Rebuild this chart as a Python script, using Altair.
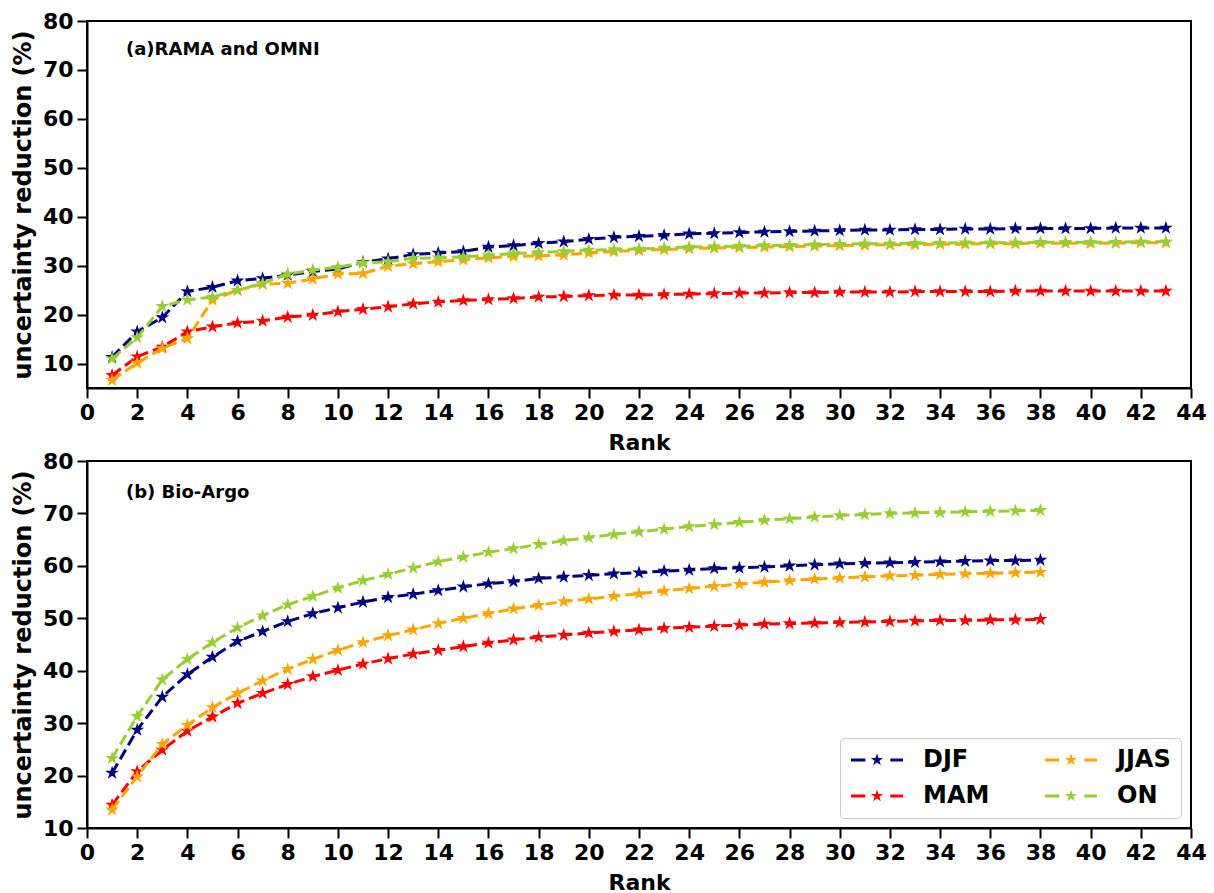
import altair as alt
import pandas as pd

seasons_draw = ["DJF", "MAM", "JJAS", "ON"]
season_colors = ["#000080", "#ff0000", "#ffa500", "#9acd32"]

ranks_a = list(range(1, 44))
ranks_b = list(range(1, 39))
x_ticks = list(range(0, 45, 2))
y_ticks = list(range(10, 81, 10))

a_djf = [11.3, 16.5, 19.4, 24.7, 25.6, 26.9, 27.4, 28.1, 28.8, 29.3, 30.7, 31.4, 32.3, 32.6, 32.9,
         33.8, 34.1, 34.6, 34.9, 35.4, 35.8, 36.0, 36.2, 36.5, 36.6, 36.8, 36.9, 37.0, 37.1, 37.2,
         37.3, 37.3, 37.4, 37.4, 37.5, 37.5, 37.6, 37.6, 37.6, 37.6, 37.7, 37.7, 37.7]
a_mam = [7.6, 11.4, 13.4, 16.5, 17.5, 18.3, 18.7, 19.5, 19.9, 20.6, 21.1, 21.6, 22.2, 22.6, 22.9,
         23.1, 23.3, 23.6, 23.7, 23.9, 24.0, 24.0, 24.1, 24.2, 24.3, 24.4, 24.4, 24.5, 24.5, 24.6,
         24.6, 24.6, 24.7, 24.7, 24.7, 24.7, 24.8, 24.8, 24.8, 24.8, 24.8, 24.8, 24.8]
a_jjas = [6.6, 10.1, 13.1, 15.1, 23.0, 25.0, 26.2, 26.4, 27.3, 28.3, 28.4, 29.9, 30.4, 30.8, 31.2,
          31.6, 31.9, 32.0, 32.2, 32.6, 32.9, 33.1, 33.3, 33.5, 33.6, 33.7, 33.8, 33.9, 34.0, 34.1,
          34.2, 34.3, 34.3, 34.4, 34.4, 34.5, 34.5, 34.6, 34.6, 34.6, 34.6, 34.7, 34.7]
a_on = [11.0, 15.3, 21.7, 23.0, 23.6, 25.0, 26.4, 28.3, 29.1, 29.7, 30.6, 30.8, 31.5, 31.6, 31.8,
        32.1, 32.5, 32.7, 32.9, 33.2, 33.3, 33.4, 33.6, 33.8, 33.9, 34.0, 34.1, 34.2, 34.3, 34.4,
        34.5, 34.5, 34.6, 34.6, 34.7, 34.7, 34.7, 34.8, 34.8, 34.8, 34.8, 34.9, 34.9]

b_djf = [20.5, 28.7, 35.0, 39.3, 42.6, 45.6, 47.5, 49.4, 50.9, 52.0, 53.1, 54.0, 54.6, 55.3, 56.0,
         56.6, 57.0, 57.6, 57.9, 58.2, 58.5, 58.7, 59.0, 59.2, 59.5, 59.6, 59.8, 60.0, 60.2, 60.4,
         60.5, 60.6, 60.7, 60.8, 60.9, 61.0, 61.0, 61.1]
b_mam = [14.4, 20.8, 24.9, 28.5, 31.2, 33.8, 35.7, 37.4, 38.9, 40.1, 41.3, 42.3, 43.2, 43.9, 44.6,
         45.3, 45.9, 46.4, 46.8, 47.2, 47.5, 47.8, 48.1, 48.3, 48.5, 48.7, 48.9, 49.0, 49.1, 49.2,
         49.3, 49.4, 49.5, 49.6, 49.6, 49.7, 49.7, 49.8]
b_jjas = [13.5, 19.8, 26.0, 29.6, 33.0, 35.7, 38.1, 40.3, 42.2, 43.9, 45.4, 46.7, 47.8, 49.0, 50.0,
          50.9, 51.8, 52.5, 53.2, 53.7, 54.2, 54.7, 55.2, 55.7, 56.1, 56.5, 56.9, 57.2, 57.5, 57.7,
          57.9, 58.1, 58.2, 58.4, 58.5, 58.6, 58.7, 58.8]
b_on = [23.3, 31.3, 38.3, 42.2, 45.4, 48.2, 50.5, 52.6, 54.2, 55.8, 57.2, 58.4, 59.6, 60.8, 61.7,
        62.6, 63.3, 64.1, 64.8, 65.4, 66.0, 66.5, 67.0, 67.5, 67.9, 68.3, 68.7, 69.0, 69.3, 69.6,
        69.8, 70.0, 70.1, 70.2, 70.3, 70.4, 70.5, 70.6]

label_a = "(a)RAMA and OMNI"
label_b = "(b) Bio-Argo"
x_title = "Rank"
y_title = "uncertainty reduction (%)"

STAR = ("M0,-1L0.2245,-0.309L0.9511,-0.309L0.3633,0.118L0.5878,0.809L0,0.382"
        "L-0.5878,0.809L-0.3633,0.118L-0.9511,-0.309L-0.2245,-0.309Z")
LEG_SYM = ("M-3.71,-0.21L-1.67,-0.21L-1.67,0.21L-3.71,0.21Z"
           "M1.9,-0.21L3.71,-0.21L3.71,0.21L1.9,0.21Z"
           "M0,-0.93L0.209,-0.287L0.885,-0.287L0.338,0.110L0.547,0.752L0,0.355"
           "L-0.547,0.752L-0.338,0.110L-0.885,-0.287L-0.209,-0.287Z")

FONT = "DejaVu Sans"


def long_df(ranks, series):
    rows = []
    for s, vals in zip(seasons_draw, series):
        for r, v in zip(ranks, vals):
            rows.append({"Rank": r, "value": v, "season": s})
    return pd.DataFrame(rows)


def panel(df, ydomain, label, label_y, legend):
    x = alt.X("Rank:Q", scale=alt.Scale(domain=[0, 44], nice=False),
              axis=alt.Axis(values=x_ticks, title=x_title, labelOverlap=False,
                            labelFlush=False, titlePadding=9, titleFontSize=22))
    y = alt.Y("value:Q", scale=alt.Scale(domain=ydomain, nice=False, zero=False),
              axis=alt.Axis(values=y_ticks, title=y_title, titlePadding=7, titleFontSize=24))
    cscale = alt.Scale(domain=seasons_draw, range=season_colors)

    def col(leg=alt.Undefined):
        return alt.Color("season:N", scale=cscale, legend=leg)

    layers = []
    if legend:
        leg = alt.Legend(
            title=None, orient="none", legendX=753, legendY=277,
            columns=2, symbolType=LEG_SYM, symbolSize=196,
            symbolOffset=15, labelOffset=34, symbolStrokeWidth=0,
            symbolOpacity=1, labelFontSize=24, labelFont=FONT,
            labelFontWeight="bold", labelColor="black",
            padding=10, rowPadding=12, columnPadding=54,
            strokeColor="#cccccc", fillColor="white", cornerRadius=4,
        )
        legend_layer = alt.Chart(df).transform_filter("false").mark_point(
            shape=STAR, filled=True, size=200, opacity=1).encode(
            x=x, y=y, color=col(leg))
        layers.append(legend_layer)
    for s in seasons_draw:
        c = col() if legend else col(None)
        base = alt.Chart(df).transform_filter(alt.datum.season == s)
        line = base.mark_line(strokeWidth=3, strokeDash=[11, 5]).encode(x=x, y=y, color=c)
        pts = base.mark_point(shape=STAR, filled=True, size=210, opacity=1).encode(
            x=x, y=y, color=c)
        layers += [line, pts]
    txt = alt.Chart(pd.DataFrame({"t": [label]})).mark_text(
        align="left", baseline="alphabetic", fontSize=18, fontWeight="bold",
        font=FONT, color="black").encode(
        text="t:N", x=alt.value(39), y=alt.value(label_y))
    layers.append(txt)
    return alt.layer(*layers).properties(width=1104, height=367)


pa = panel(long_df(ranks_a, [a_djf, a_mam, a_jjas, a_on]), [5, 80], label_a, 34, False)
pb = panel(long_df(ranks_b, [b_djf, b_mam, b_jjas, b_on]), [10, 80], label_b, 37, True)

chart = alt.vconcat(pa, pb, spacing=73, bounds="flush").resolve_scale(
    color="independent").resolve_legend(color="independent").properties(
    padding={"left": 10, "top": 9, "right": 5, "bottom": 0},
    background="white",
).configure_view(stroke="black", strokeWidth=2).configure_axis(
    labelFont=FONT, labelFontSize=22, labelFontWeight="bold", labelColor="black",
    titleFont=FONT, titleFontWeight="bold", titleColor="black",
    domainColor="black", domainWidth=2, tickColor="black", tickWidth=2, tickSize=10,
    labelPadding=4, grid=False,
)

chart.save("out.html", embed_options={"renderer": "svg", "actions": False})
